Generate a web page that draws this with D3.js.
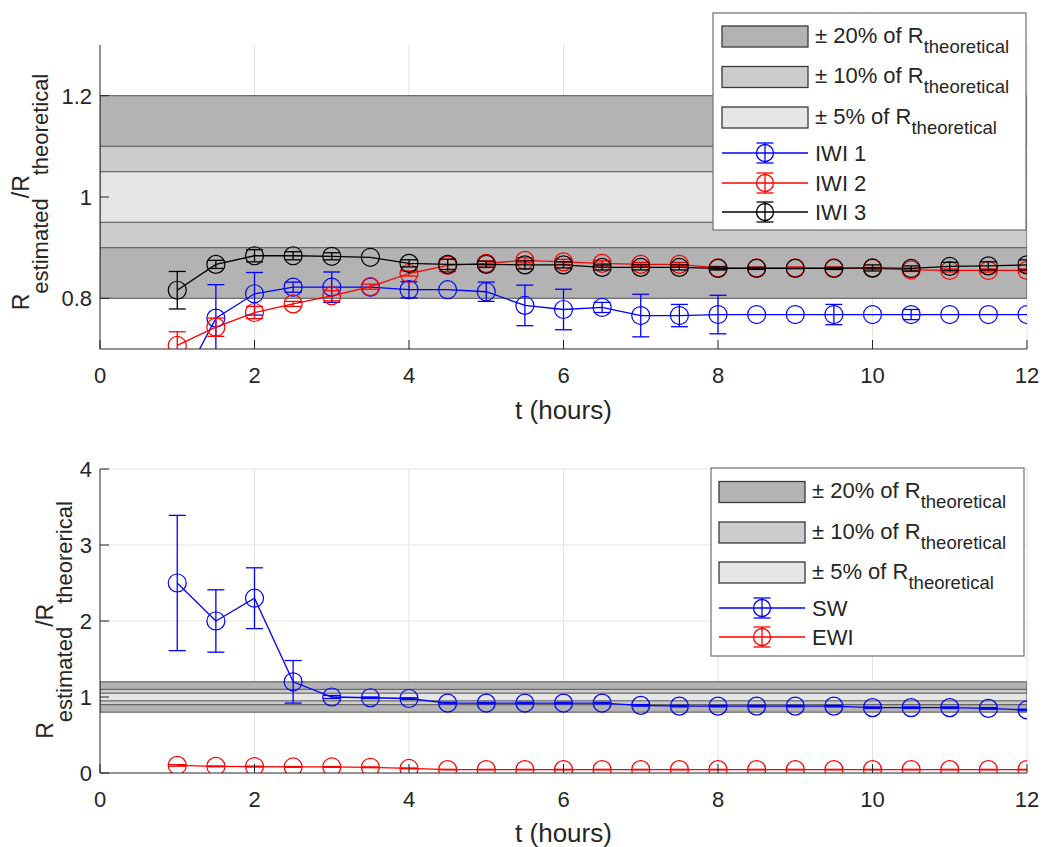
<!DOCTYPE html>
<html><head><meta charset="utf-8">
<script src="https://cdn.jsdelivr.net/npm/d3@7"></script>
<style>
body{margin:0;background:#fff}
svg{display:block}
text{font-family:"Liberation Sans",Arial,Helvetica,sans-serif;fill:#262626}
</style>
</head><body>
<svg id="chart" width="1042" height="847"></svg>
<script>
// ---------- data ----------
const tHours = [1,1.5,2,2.5,3,3.5,4,4.5,5,5.5,6,6.5,7,7.5,8,8.5,9,9.5,10,10.5,11,11.5,12];
const xTicks = [0,2,4,6,8,10,12];

const iwi1    = [0.616,0.761,0.809,0.822,0.822,0.822,0.817,0.817,0.813,0.786,0.778,0.782,0.766,0.766,0.768,0.768,0.768,0.768,0.768,0.768,0.768,0.768,0.768];
const iwi1Err = [0.03,0.066,0.042,0.01,0.03,0,0.016,0,0.019,0.04,0.04,0.01,0.042,0.022,0.038,0,0,0.02,0,0.01,0,0,0];
const iwi2    = [0.707,0.743,0.772,0.789,0.805,0.823,0.849,0.865,0.869,0.875,0.872,0.869,0.867,0.867,0.860,0.860,0.860,0.860,0.859,0.856,0.855,0.855,0.855];
const iwi2Err = [0.027,0.018,0.012,0.005,0.01,0.005,0.005,0.012,0.005,0.005,0.005,0.005,0.004,0.004,0.003,0.002,0.002,0.002,0.002,0.003,0.003,0.003,0.003];
const iwi3    = [0.816,0.867,0.884,0.884,0.883,0.881,0.869,0.867,0.867,0.866,0.866,0.861,0.861,0.861,0.859,0.859,0.859,0.859,0.860,0.859,0.863,0.864,0.866];
const iwi3Err = [0.037,0.008,0.012,0.008,0.007,0,0.007,0.01,0.006,0.008,0.006,0.005,0.005,0.005,0.003,0.002,0,0.002,0.006,0.005,0.008,0.008,0.01];

const sw      = [2.5,2.0,2.3,1.2,1.0,0.99,0.98,0.92,0.92,0.92,0.92,0.92,0.89,0.88,0.88,0.88,0.88,0.88,0.86,0.86,0.86,0.85,0.83];
const swErr   = [0.89,0.41,0.4,0.28,0.02,0.01,0.01,0.01,0.01,0.01,0.01,0.01,0.01,0.01,0.01,0.01,0.01,0.01,0.01,0.01,0.01,0.01,0.01];
const ewi     = [0.10,0.087,0.085,0.08,0.08,0.075,0.06,0.045,0.045,0.045,0.045,0.045,0.045,0.045,0.045,0.045,0.045,0.045,0.045,0.045,0.045,0.045,0.045];
const ewiErr  = [0.01,0.005,0.005,0.005,0.005,0.005,0.005,0.003,0.003,0.003,0.003,0.003,0.003,0.003,0.003,0.003,0.003,0.003,0.003,0.003,0.003,0.003,0.003];

const bandPct   = [0.20,0.10,0.05];
const bandNames = ["20%","10%","5%"];
const topYTicks = [0.8,1,1.2];
const botYTicks = [0,1,2,3,4];

// ---------- styles ----------
const bandFill = ["#b3b3b3","#cccccc","#e6e6e6"];
const svg = d3.select("#chart");
const X0 = 100, X1 = 1027;

const panels = [
  { id:"top", top:45, bottom:349, domain:[0.7,1.3], yTicks:topYTicks,
    series:[{name:"IWI 1",v:iwi1,e:iwi1Err,c:"#0000ff"},
            {name:"IWI 2",v:iwi2,e:iwi2Err,c:"#ff0000"},
            {name:"IWI 3",v:iwi3,e:iwi3Err,c:"#000000"}],
    ylab:{x:29, shift:19, cy:192, sub2:"theoretical"},
    xTickBase:383, xLabBase:419,
    legend:{x:713,y:13,w:313,h:217, rows:[36.5,77,117.5], lines:[153,183,212], sw0:722, sw1:808, tx:815} },
  { id:"bot", top:469, bottom:773, domain:[0,4], yTicks:botYTicks,
    series:[{name:"SW",v:sw,e:swErr,c:"#0000ff"},
            {name:"EWI",v:ewi,e:ewiErr,c:"#ff0000"}],
    ylab:{x:53, shift:19, cy:620, sub2:"theorerical"},
    xTickBase:807, xLabBase:842,
    legend:{x:711,y:468,w:313,h:188, rows:[492,532.5,572.5], lines:[608,637], sw0:719, sw1:805, tx:812} }
];

const x = d3.scaleLinear().domain([0,12]).range([X0,X1]);

panels.forEach(p => {
  const y = d3.scaleLinear().domain(p.domain).range([p.bottom,p.top]);
  const g = svg.append("g");
  const clipId = "clip-"+p.id;
  svg.append("defs").append("clipPath").attr("id",clipId)
    .append("rect").attr("x",X0).attr("y",p.top).attr("width",X1-X0).attr("height",p.bottom-p.top);

  // grid
  g.append("g").selectAll("line").data(xTicks.filter(d=>d>0)).join("line")
    .attr("x1",d=>x(d)).attr("x2",d=>x(d)).attr("y1",p.top).attr("y2",p.bottom)
    .attr("stroke","#e3e3e3").attr("stroke-width",1);
  g.append("g").selectAll("line").data(p.yTicks.filter(d=>d>p.domain[0])).join("line")
    .attr("x1",X0).attr("x2",X1).attr("y1",d=>y(d)).attr("y2",d=>y(d))
    .attr("stroke","#e3e3e3").attr("stroke-width",1);

  // bands
  const bg = g.append("g").attr("clip-path",`url(#${clipId})`);
  bandPct.forEach((b,i) => {
    bg.append("rect").attr("x",x(0)).attr("width",x(12)-x(0))
      .attr("y",y(1+b)).attr("height",y(1-b)-y(1+b))
      .attr("fill",bandFill[i]).attr("stroke","#555").attr("stroke-opacity",0.85).attr("stroke-width",1.2);
  });

  // series
  const dg = g.append("g").attr("clip-path",`url(#${clipId})`);
  p.series.forEach(s => {
    const pts = tHours.map((t,i)=>({t, v:s.v[i], e:s.e[i]}));
    dg.append("path").datum(pts)
      .attr("d", d3.line().x(d=>x(d.t)).y(d=>y(d.v)))
      .attr("fill","none").attr("stroke",s.c).attr("stroke-width",1.3);
    const eb = dg.append("g").attr("stroke",s.c).attr("stroke-width",1.3).attr("fill","none");
    pts.filter(d=>d.e>0).forEach(d => {
      const cx = x(d.t), yt = y(d.v+d.e), yb = y(d.v-d.e);
      eb.append("line").attr("x1",cx).attr("x2",cx).attr("y1",yt).attr("y2",yb);
      eb.append("line").attr("x1",cx-8.5).attr("x2",cx+8.5).attr("y1",yt).attr("y2",yt);
      eb.append("line").attr("x1",cx-8.5).attr("x2",cx+8.5).attr("y1",yb).attr("y2",yb);
    });
    dg.append("g").selectAll("circle").data(pts).join("circle")
      .attr("cx",d=>x(d.t)).attr("cy",d=>y(d.v)).attr("r",9)
      .attr("fill","none").attr("stroke",s.c).attr("stroke-width",1.2);
  });

  // axes
  const ax = g.append("g").attr("stroke","#262626").attr("stroke-width",1);
  ax.append("line").attr("x1",X0).attr("x2",X0).attr("y1",p.top).attr("y2",p.bottom);
  ax.append("line").attr("x1",X0).attr("x2",X1).attr("y1",p.bottom).attr("y2",p.bottom);
  xTicks.forEach(d => ax.append("line").attr("x1",x(d)).attr("x2",x(d)).attr("y1",p.bottom).attr("y2",p.bottom-9));
  p.yTicks.forEach(d => ax.append("line").attr("x1",X0).attr("x2",X0+9).attr("y1",y(d)).attr("y2",y(d)));

  const fmt = d3.format("~g");
  g.append("g").selectAll("text").data(xTicks).join("text")
    .attr("x",d=>x(d)).attr("y",p.xTickBase).attr("text-anchor","middle")
    .attr("font-size",22).text(d=>fmt(d));
  g.append("g").selectAll("text").data(p.yTicks).join("text")
    .attr("x",X0-8).attr("y",d=>y(d)+8).attr("text-anchor","end")
    .attr("font-size",22).text(d=>fmt(d));

  g.append("text").attr("x",(X0+X1)/2).attr("y",p.xLabBase).attr("text-anchor","middle")
    .attr("font-size",26).text("t (hours)");

  const yl = g.append("text").attr("transform",`translate(${p.ylab.x},${p.ylab.cy}) rotate(-90)`)
    .attr("text-anchor","middle");
  yl.append("tspan").attr("font-size",23).text("R");
  yl.append("tspan").attr("font-size",22).attr("dy",p.ylab.shift).text("estimated");
  yl.append("tspan").attr("font-size",23).attr("dy",-p.ylab.shift).text("/R");
  yl.append("tspan").attr("font-size",22).attr("dy",p.ylab.shift).text(p.ylab.sub2);

  // legend
  const L = p.legend;
  const lg = g.append("g");
  lg.append("rect").attr("x",L.x).attr("y",L.y).attr("width",L.w).attr("height",L.h)
    .attr("fill","#fff").attr("stroke","#707070").attr("stroke-width",1.2);
  bandPct.forEach((b,i) => {
    const cy = L.rows[i];
    lg.append("rect").attr("x",L.sw0).attr("y",cy-10.5).attr("width",L.sw1-L.sw0).attr("height",21)
      .attr("fill",bandFill[i]).attr("stroke","#3a3a3a").attr("stroke-width",1.3);
    const tx = lg.append("text").attr("x",L.tx).attr("y",cy+6).attr("font-size",22);
    tx.append("tspan").text("\u00B1 " + bandNames[i] + " of R");
    tx.append("tspan").attr("font-size",18.5).attr("dy",10).text("theoretical");
  });
  p.series.forEach((s,i) => {
    const cy = L.lines[i], cx = (L.sw0+L.sw1)/2;
    const sg = lg.append("g").attr("stroke",s.c).attr("stroke-width",1.3).attr("fill","none");
    sg.append("line").attr("x1",L.sw0).attr("x2",L.sw1).attr("y1",cy).attr("y2",cy);
    sg.append("line").attr("x1",cx).attr("x2",cx).attr("y1",cy-10).attr("y2",cy+10);
    sg.append("line").attr("x1",cx-8.5).attr("x2",cx+8.5).attr("y1",cy-10).attr("y2",cy-10);
    sg.append("line").attr("x1",cx-8.5).attr("x2",cx+8.5).attr("y1",cy+10).attr("y2",cy+10);
    sg.append("circle").attr("cx",cx).attr("cy",cy).attr("r",8.5);
    lg.append("text").attr("x",L.tx).attr("y",cy+8).attr("font-size",22).text(s.name);
  });
});
</script>
</body></html>
